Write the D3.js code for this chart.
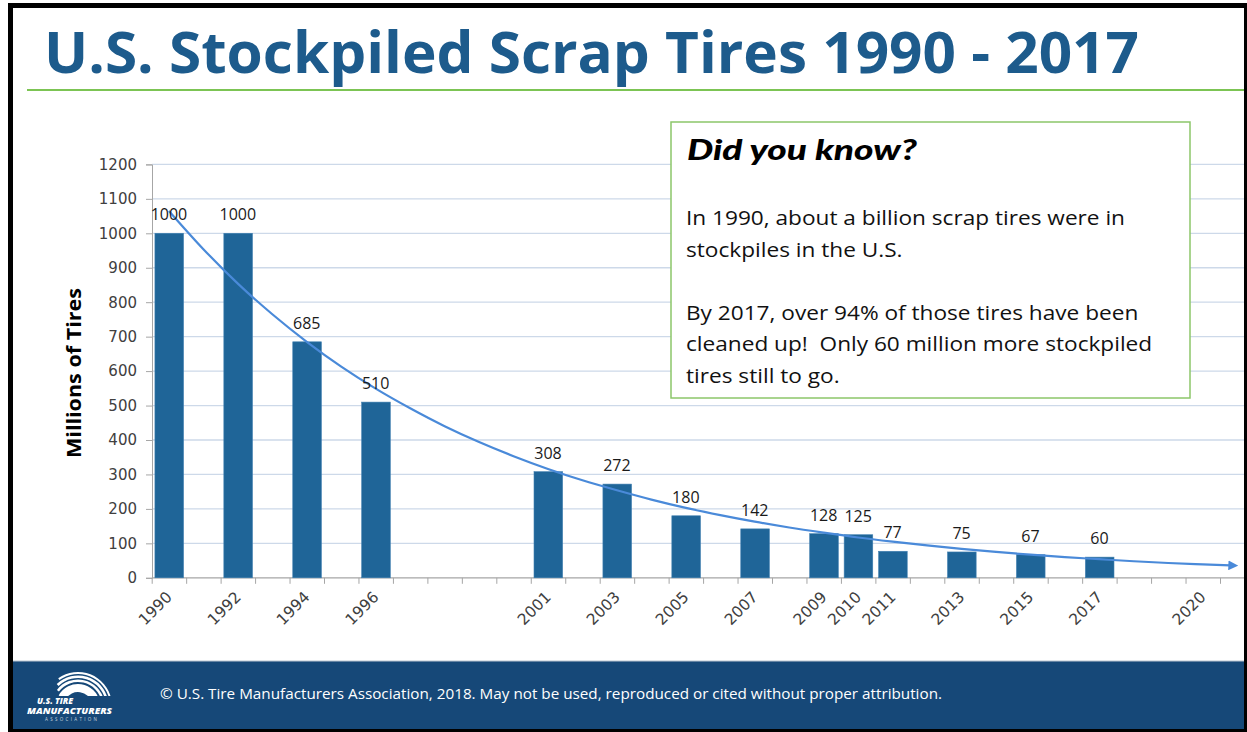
<!DOCTYPE html>
<html>
<head>
<meta charset="utf-8">
<script src="https://cdnjs.cloudflare.com/ajax/libs/d3/7.8.5/d3.min.js"></script>
<style>
  body { margin: 0; background: #fff; }
  svg { display: block; }
</style>
</head>
<body>
<div id="main"></div>
<script>
// data
var years = [1990, 1992, 1994, 1996, 2001, 2003, 2005, 2007, 2009, 2010, 2011, 2013, 2015, 2017];
var tires = [1000, 1000, 685, 510, 308, 272, 180, 142, 128, 125, 77, 75, 67, 60];
var labelYears = [1990, 1992, 1994, 1996, 2001, 2003, 2005, 2007, 2009, 2010, 2011, 2013, 2015, 2017, 2020];
var yTicks = [0, 100, 200, 300, 400, 500, 600, 700, 800, 900, 1000, 1100, 1200];
// exponential trend line, read at each year (last point = arrow head)
var trendYears = [1990, 1991, 1992, 1993, 1994, 1995, 1996, 1997, 1998, 1999, 2000, 2001, 2002, 2003, 2004, 2005,
    2006, 2007, 2008, 2009, 2010, 2011, 2012, 2013, 2014, 2015, 2016, 2017, 2018, 2019, 2020, 2020.8];
var trendValues = [1065, 954, 854, 765, 685, 613, 549, 492, 440, 394, 353, 316, 283, 254, 227, 203,
    182, 163, 146, 131, 117, 105, 94, 84, 75, 67, 60, 54, 48, 43, 39, 36];
var calloutLines = [
    'In 1990, about a billion scrap tires were in',
    'stockpiles in the U.S.',
    '',
    'By 2017, over 94% of those tires have been',
    'cleaned up!  Only 60 million more stockpiled',
    'tires still to go.'];

var W = 1247, H = 732;
var blue = '#1f6598', trendColor = '#4a8ad9';

var svg = d3.select('#main').append('svg')
    .attr('width', W)
    .attr('height', H);

svg.append('rect').attr('x', 0).attr('y', 0).attr('width', W).attr('height', H).attr('fill', '#fff');

// title
svg.append('text')
    .attr('x', 44).attr('y', 73)
    .attr('font-family', 'Open Sans')
    .attr('font-weight', 700)
    .attr('font-size', 58)
    .attr('fill', '#1d5b8c')
    .attr('textLength', 1095)
    .attr('lengthAdjust', 'spacingAndGlyphs')
    .text('U.S. Stockpiled Scrap Tires 1990 - 2017');

svg.append('line')
    .attr('x1', 27).attr('x2', W).attr('y1', 90).attr('y2', 90)
    .attr('stroke', '#7cc453').attr('stroke-width', 2);

// scales
var x = d3.scaleLinear()
    .domain([1990, 2021])
    .range([151.7, 1220]);
var bw = (x(1991) - x(1990));
var y = d3.scaleLinear()
    .domain([0, 1200])
    .range([577.8, 164.4]);

// gridlines
svg.append('g').attr('class', 'grid')
    .selectAll('line')
    .data(yTicks.filter(d => d > 0))
    .enter()
    .append('line')
    .attr('x1', 152).attr('x2', 1244)
    .attr('y1', d => y(d)).attr('y2', d => y(d))
    .attr('stroke', '#cdd9e9')
    .attr('stroke-width', 1.3);

// y axis
var yAxis = svg.append('g')
    .attr('class', 'y-axis')
    .attr('transform', 'translate(152,0)')
    .call(d3.axisLeft(y).tickValues(yTicks).tickSize(6).tickPadding(9).tickFormat(d3.format('d')));
yAxis.select('.domain').attr('stroke', '#a6a6a6');
yAxis.selectAll('.tick line').attr('stroke', '#a6a6a6');
yAxis.selectAll('.tick text')
    .attr('font-family', 'DejaVu Sans')
    .attr('font-size', 15)
    .attr('fill', '#404040');

svg.append('text')
    .attr('transform', 'translate(81,373) rotate(-90)')
    .attr('text-anchor', 'middle')
    .attr('font-family', 'Open Sans')
    .attr('font-weight', 700)
    .attr('font-size', 20)
    .attr('fill', '#000')
    .attr('textLength', 170)
    .attr('lengthAdjust', 'spacingAndGlyphs')
    .text('Millions of Tires');

// x axis: ticks at year boundaries
var xAxis = svg.append('g')
    .attr('class', 'x-axis')
    .attr('transform', 'translate(0,' + y(0) + ')')
    .call(d3.axisBottom(x).tickValues(d3.range(1990, 2022)).tickSize(6).tickFormat(''));
xAxis.select('.domain').remove();
xAxis.selectAll('.tick line').attr('stroke', '#a6a6a6');
svg.append('line')
    .attr('x1', 152).attr('x2', 1244)
    .attr('y1', y(0)).attr('y2', y(0))
    .attr('stroke', '#a6a6a6').attr('stroke-width', 1.3);

svg.append('g').attr('class', 'x-labels')
    .selectAll('text')
    .data(labelYears)
    .enter()
    .append('text')
    .attr('transform', d => 'translate(' + (x(d) + bw / 2 + 4) + ',598) rotate(-45)')
    .attr('text-anchor', 'end')
    .attr('font-family', 'DejaVu Sans')
    .attr('font-size', 15.5)
    .attr('fill', '#404040')
    .text(d => d);

// bars
var barW = bw * 0.83;
svg.append('g').attr('class', 'bars')
    .selectAll('rect')
    .data(years)
    .enter()
    .append('rect')
    .attr('x', d => x(d) + (bw - barW) / 2 + 0.3)
    .attr('width', barW)
    .attr('y', (d, i) => y(tires[i]))
    .attr('height', (d, i) => y(0) - y(tires[i]))
    .attr('fill', blue)
    .attr('stroke', '#3f7fb0')
    .attr('stroke-width', 0.6);

// trend line
svg.append('defs').append('marker')
    .attr('id', 'arrow')
    .attr('viewBox', '0 0 10 10')
    .attr('refX', 2).attr('refY', 5)
    .attr('markerWidth', 4.5).attr('markerHeight', 4.5)
    .attr('orient', 'auto')
    .append('path')
    .attr('d', 'M0,0 L10,5 L0,10 z')
    .attr('fill', trendColor);

var line = d3.line()
    .x((d, i) => x(trendYears[i] + 0.5))
    .y(d => y(d))
    .curve(d3.curveMonotoneX);
svg.append('path')
    .datum(trendValues)
    .attr('d', line)
    .attr('fill', 'none')
    .attr('stroke', trendColor)
    .attr('stroke-width', 2.2)
    .attr('marker-end', 'url(#arrow)');

// data labels
svg.append('g').attr('class', 'labels')
    .selectAll('text')
    .data(years)
    .enter()
    .append('text')
    .attr('x', d => x(d) + bw / 2)
    .attr('y', (d, i) => y(tires[i]) - 13)
    .attr('text-anchor', 'middle')
    .attr('font-family', 'Open Sans')
    .attr('font-size', 16)
    .attr('fill', '#1a1a1a')
    .text((d, i) => tires[i]);

// callout
var box = svg.append('g').attr('class', 'callout');
box.append('rect')
    .attr('x', 671).attr('y', 122).attr('width', 519).attr('height', 276)
    .attr('fill', '#fff')
    .attr('stroke', '#8cc66a')
    .attr('stroke-width', 1.5);
box.append('text')
    .attr('x', 687).attr('y', 160)
    .attr('font-family', 'Lato')
    .attr('font-weight', 900)
    .attr('font-style', 'italic')
    .attr('font-size', 28)
    .attr('fill', '#000')
    .attr('textLength', 230)
    .attr('lengthAdjust', 'spacingAndGlyphs')
    .text('Did you know?');
var bodyText = box.selectAll('text.body')
    .data(calloutLines)
    .enter()
    .append('text')
    .attr('class', 'body')
    .attr('x', 686)
    .attr('y', (d, i) => 225 + i * 31.5)
    .attr('font-family', 'Open Sans')
    .attr('font-size', 19.5)
    .attr('fill', '#111')
    .style('white-space', 'pre')
    .text(d => d);
// widen the body lines to the Calibri-like width of the original (first line ends at x=1125)
var k = 439 / bodyText.nodes()[0].getComputedTextLength();
bodyText.filter(d => d.length > 0).each(function() {
    d3.select(this)
        .attr('textLength', this.getComputedTextLength() * k)
        .attr('lengthAdjust', 'spacingAndGlyphs');
});

// footer
svg.append('rect')
    .attr('x', 8).attr('y', 661).attr('width', W - 8).attr('height', 68)
    .attr('fill', '#164878');
svg.append('line')
    .attr('x1', 13).attr('x2', W).attr('y1', 661).attr('y2', 661)
    .attr('stroke', '#b9c3cf').attr('stroke-width', 1);
svg.append('text')
    .attr('x', 160).attr('y', 699)
    .attr('font-family', 'Open Sans')
    .attr('font-size', 14)
    .attr('fill', '#fff')
    .attr('textLength', 782)
    .attr('lengthAdjust', 'spacingAndGlyphs')
    .text('\u00a9 U.S. Tire Manufacturers Association, 2018. May not be used, reproduced or cited without proper attribution.');

// logo
var logo = svg.append('g').attr('transform', 'translate(78,706)');
var arc = d3.arc();
[[14, 22], [24, 26.5], [28, 30.5], [32, 34]].forEach(function(r, i) {
    logo.append('path')
        .attr('d', arc({innerRadius: r[0], outerRadius: r[1], startAngle: -Math.PI / 2 + 0.5 + i * 0.15, endAngle: Math.PI / 2 - 0.2}))
        .attr('fill', '#fff');
});
logo.append('rect').attr('x', -40).attr('y', -10).attr('width', 80).attr('height', 20).attr('fill', '#164878');
svg.append('text')
    .attr('x', 37).attr('y', 704)
    .attr('font-family', 'Open Sans').attr('font-weight', 800).attr('font-style', 'italic')
    .attr('font-size', 8.5).attr('fill', '#fff')
    .text('U.S. TIRE');
svg.append('text')
    .attr('x', 27).attr('y', 714)
    .attr('font-family', 'Open Sans').attr('font-weight', 800).attr('font-style', 'italic')
    .attr('font-size', 8.5).attr('fill', '#fff')
    .attr('textLength', 85).attr('lengthAdjust', 'spacingAndGlyphs')
    .text('MANUFACTURERS');
svg.append('text')
    .attr('x', 45).attr('y', 721)
    .attr('font-family', 'Open Sans')
    .attr('font-size', 4.5).attr('fill', '#c8d3df')
    .attr('textLength', 52).attr('lengthAdjust', 'spacing')
    .text('ASSOCIATION');

// black frame
svg.append('rect').attr('x', 8).attr('y', 3).attr('width', W - 8).attr('height', 5).attr('fill', '#000');
svg.append('rect').attr('x', 8).attr('y', 3).attr('width', 5).attr('height', H - 3).attr('fill', '#000');
svg.append('rect').attr('x', W - 3).attr('y', 3).attr('width', 3).attr('height', H - 3).attr('fill', '#000');
svg.append('rect').attr('x', 8).attr('y', H - 3).attr('width', W - 8).attr('height', 3).attr('fill', '#000');
</script>
</body>
</html>
